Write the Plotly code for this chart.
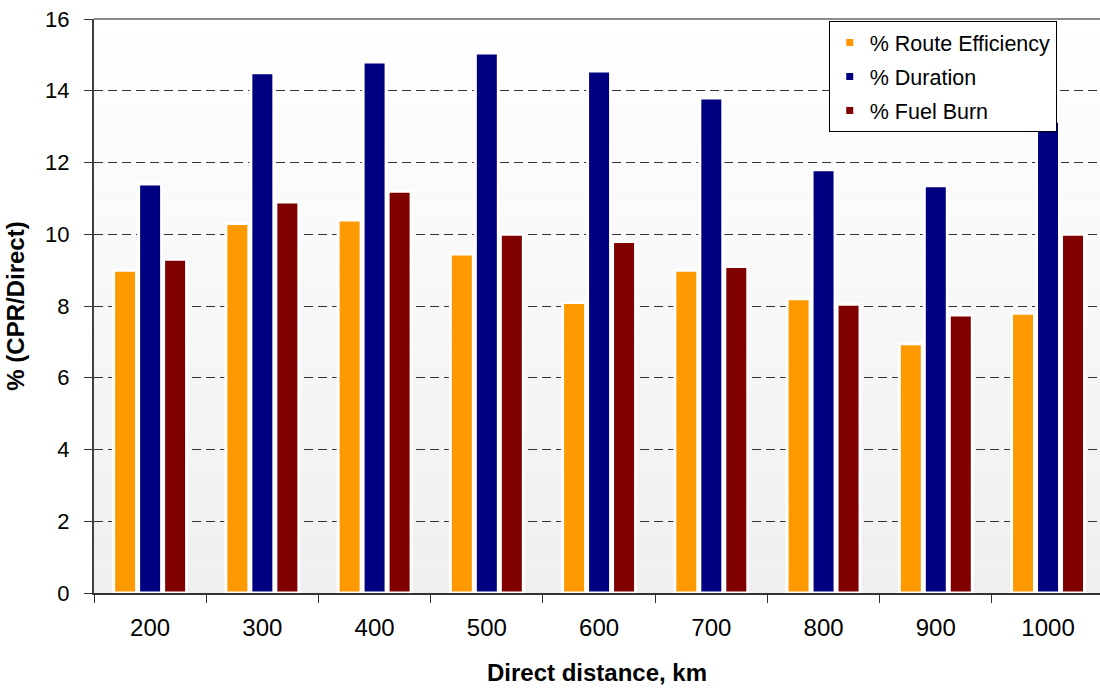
import plotly.graph_objects as go

categories = ["200", "300", "400", "500", "600", "700", "800", "900", "1000"]
route_efficiency = [9.0, 10.3, 10.4, 9.45, 8.1, 9.0, 8.2, 6.95, 7.8]
duration = [11.4, 14.5, 14.8, 15.05, 14.55, 13.8, 11.8, 11.35, 13.15]
fuel_burn = [9.3, 10.9, 11.2, 10.0, 9.8, 9.1, 8.05, 7.75, 10.0]
series_names = ["% Route Efficiency", "% Duration", "% Fuel Burn"]
colors = ["#FF9900", "#000080", "#800000"]

FONT = "Liberation Sans, Arial, sans-serif"

fig = go.Figure()
for name, vals, col in zip(series_names, [route_efficiency, duration, fuel_burn], colors):
    fig.add_trace(go.Bar(
        x=categories, y=vals, name=name, showlegend=False,
        marker=dict(color=col, line=dict(color="white", width=3)),
    ))
# legend entries with small square swatches
for i, (name, col) in enumerate(zip(series_names, colors)):
    fig.add_trace(go.Scatter(
        x=[None], y=[None], mode="markers", name=name,
        legendgroup=f"g{i}",
        marker=dict(symbol="square", size=7, color=col),
    ))

# background gradient (white at top to light gray at bottom)
n = 60
shapes = []
for i in range(n):
    t = (i + 0.5) / n
    v = int(round(255 - (255 - 239) * t))
    shapes.append(dict(
        type="rect", xref="paper", yref="paper",
        x0=0, x1=1, y0=1 - (i + 1) / n, y1=1 - i / n,
        fillcolor=f"rgb({v},{v},{v})", line=dict(width=0), layer="below",
    ))
shapes.append(dict(type="line", xref="paper", yref="paper", x0=0, x1=1, y0=1, y1=1,
                   line=dict(color="#8c8c8c", width=2), layer="above"))

fig.update_layout(
    width=1100, height=688,
    margin=dict(l=94, r=0, t=19, b=95),
    paper_bgcolor="white", plot_bgcolor="rgba(0,0,0,0)",
    barmode="group", bargap=0.332, bargroupgap=0.08,
    font=dict(family=FONT, color="black"),
    shapes=shapes,
    legend=dict(
        x=0.957, y=0.9965, xanchor="right", yanchor="top",
        bgcolor="white", bordercolor="black", borderwidth=1,
        font=dict(size=21.5, family=FONT, color="black"),
        traceorder="grouped", tracegroupgap=3,
    ),
    xaxis=dict(
        type="category", range=[-0.5, 8.463],
        showgrid=False, showline=True, linecolor="#333333", linewidth=2,
        ticks="outside", tickson="boundaries", ticklen=8, tickcolor="#333333",
        tickfont=dict(size=24), ticklabelstandoff=12,
        title=dict(text="<b>Direct distance, km</b>", font=dict(size=24), standoff=24),
    ),
    yaxis=dict(
        range=[0, 16], dtick=2, tick0=0,
        showgrid=True, gridcolor="#333333", gridwidth=1, griddash="9px,5px",
        zeroline=False,
        showline=True, linecolor="#404040", linewidth=2,
        ticks="outside", ticklen=8, tickcolor="#333333",
        tickfont=dict(size=22), ticklabelstandoff=10,
        title=dict(text="<b>% (CPR/Direct)</b>", font=dict(size=24), standoff=14),
    ),
)

fig.write_html("out.html")
